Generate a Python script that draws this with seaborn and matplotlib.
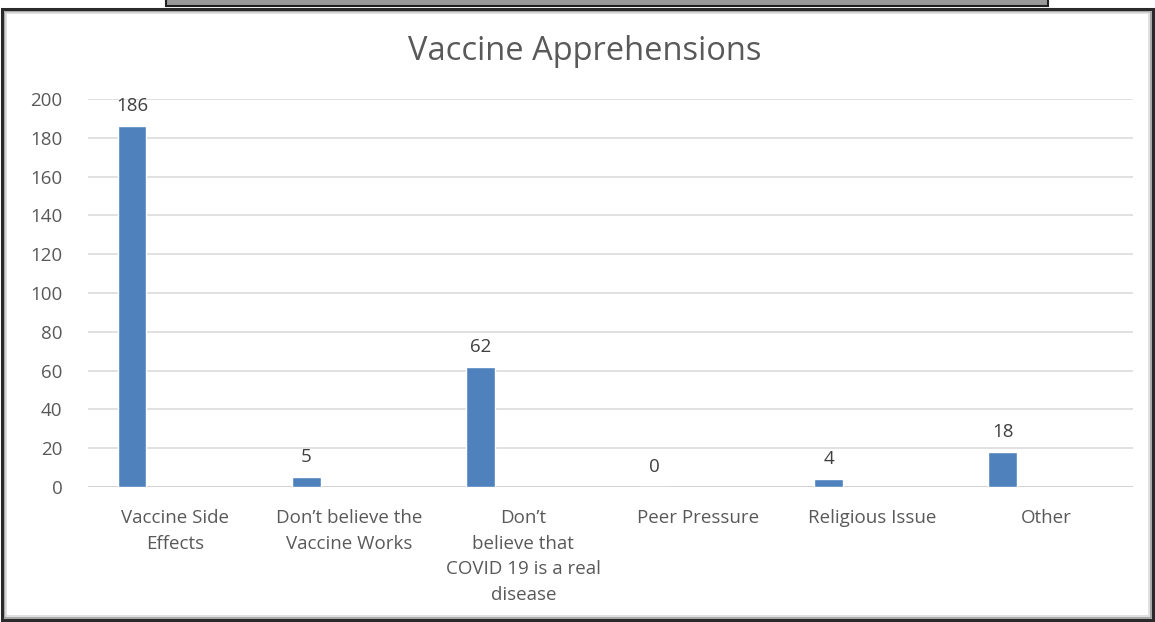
import matplotlib
matplotlib.use("Agg")
import matplotlib.pyplot as plt
from matplotlib.patches import Rectangle
import seaborn as sns
import pandas as pd

categories = [
    "Vaccine Side\nEffects",
    "Don\u2019t believe the\nVaccine Works",
    "Don\u2019t\nbelieve that\nCOVID 19 is a real\ndisease",
    "Peer Pressure",
    "Religious Issue",
    "Other",
]
counts = [186, 5, 62, 0, 4, 18]
series_slots = ["Series1", "Series2", "Series3", "Series4"]
y_ticks = [0, 20, 40, 60, 80, 100, 120, 140, 160, 180, 200]
title = "Vaccine Apprehensions"

sns.set_theme(style="white")
plt.rcParams["font.family"] = ["Open Sans", "DejaVu Sans"]

W, H = 1155, 622
fig = plt.figure(figsize=(W / 100, H / 100), dpi=100)
fig.patch.set_facecolor("white")

ax = fig.add_axes([88 / W, 1 - 487 / H, (1133 - 88) / W, (487 - 99) / H])
df = pd.DataFrame({"category": categories, "count": counts,
                   "series": series_slots[0]})
# clustered layout: only the first of four series slots carries data
sns.barplot(data=df, x="category", y="count", hue="series",
            hue_order=series_slots, palette=["#4f81bd"] * 4,
            width=0.66, saturation=1, dodge=True, legend=False,
            ax=ax, zorder=3)

ax.set_ylim(0, 200)
ax.set_yticks(y_ticks)
ax.set_yticklabels([str(v) for v in y_ticks], fontsize=13.5, color="#595959")
ax.set_xlabel("")
ax.set_ylabel("")
ax.tick_params(axis="x", length=0, pad=15.5, labelsize=13.5, labelcolor="#595959")
ax.tick_params(axis="y", length=0, pad=18.5)
for lbl in ax.get_xticklabels():
    lbl.set_linespacing(1.57)
    lbl.set_verticalalignment("top")

ax.yaxis.grid(True, color="#d9d9d9", linewidth=1.1, zorder=0)
for s in ax.spines.values():
    s.set_visible(False)
ax.axhline(0, color="#d0d0d0", linewidth=1.2, zorder=1)

for cont in ax.containers:
    if len(cont) == len(counts):
        ax.bar_label(cont, labels=[str(v) for v in counts], padding=8,
                     fontsize=13.5, color="#404040")

fig.text(585 / W, 1 - 52 / H, title, ha="center", va="center",
         fontsize=23.5, color="#595959")

# outer chart frame with a soft inner shadow
def px_rect(x0, y0, x1, y1, **kw):
    return Rectangle((x0 / W, 1 - y1 / H), (x1 - x0) / W, (y1 - y0) / H,
                     transform=fig.transFigure, **kw)

fig.patches.append(px_rect(2, 9, 1153, 620, fill=False, edgecolor="#2a2a2a", linewidth=2.2))
fig.patches.append(px_rect(4.5, 11.5, 1150.5, 617.5, fill=False, edgecolor="#9a9a9a", linewidth=1.2))
fig.patches.append(px_rect(6, 13, 1149, 616, fill=False, edgecolor="#dcdcdc", linewidth=1.2))
# edge of the box above the chart
fig.patches.append(px_rect(166, -3, 1048, 6, facecolor="#9a9a9a", edgecolor="#202020", linewidth=1.5))

fig.savefig("out.png", dpi=100)
